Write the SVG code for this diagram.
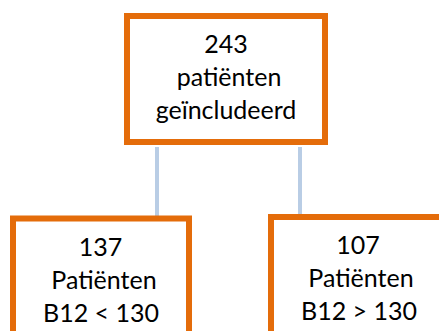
<svg xmlns="http://www.w3.org/2000/svg" width="439" height="331" viewBox="0 0 439 331">
<style>
.box{fill:#FFFFFF;stroke:#E46C0A;stroke-width:6}
.conn{stroke:#B9CDE5;stroke-width:4;fill:none}
.t{font-family:Lato,"Liberation Sans",sans-serif;font-size:25px;fill:#000000;text-anchor:middle}
</style>
<rect width="439" height="331" fill="#FFFFFF"/>
<g id="connectors">
<line class="conn" x1="157" y1="147" x2="157" y2="216"/>
<line class="conn" x1="300" y1="147" x2="300" y2="214"/>
</g>
<g id="node-top">
<rect class="box" x="127" y="16" width="198" height="126"/>
<text class="t" x="226" y="53">243</text>
<text class="t" x="229" y="86">patiënten</text>
<text class="t" x="226" y="119">geïncludeerd</text>
</g>
<g id="node-left">
<rect class="box" x="13" y="218.5" width="176" height="150"/>
<text class="t" x="100.5" y="256">137</text>
<text class="t" x="104" y="289">Patiënten</text>
<text class="t" x="101" y="322">B12 &lt; 130</text>
</g>
<g id="node-right">
<rect class="box" x="271" y="217" width="182" height="150"/>
<text class="t" x="358" y="254">107</text>
<text class="t" x="361" y="287">Patiënten</text>
<text class="t" x="359" y="320">B12 &gt; 130</text>
</g>
</svg>
